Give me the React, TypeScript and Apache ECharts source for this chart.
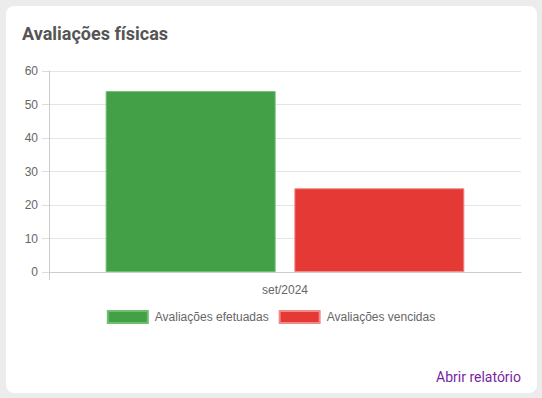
import React, { useEffect, useRef } from "react";
import * as echarts from "echarts";

const categories = ["set/2024"];
const seriesNames = ["Avaliações efetuadas", "Avaliações vencidas"];
const efetuadas = [54];
const vencidas = [25];
const colors = ["#43a047", "#e53935"];
const borderColors = ["#6fbf73", "#f08a88"];

export default function App() {
  const ref = useRef<HTMLDivElement>(null);
  useEffect(() => {
    document.body.style.margin = "0";
    const chart = echarts.init(ref.current!, undefined, { renderer: "svg" });
    const font = "'Liberation Sans', Arial, sans-serif";
    chart.setOption({
      animation: false,
      backgroundColor: "#ececec",
      textStyle: { fontFamily: font },
      title: {
        text: "Avaliações físicas",
        left: 22,
        top: 24,
        padding: 0,
        textStyle: { fontFamily: "Roboto", fontSize: 18, fontWeight: "bold", color: "#555555" },
      },
      graphic: [
        {
          type: "rect",
          z: -10,
          shape: { x: 6, y: 6, width: 531, height: 387, r: 8 },
          style: { fill: "#ffffff" },
        },
        {
          type: "line",
          shape: { x1: 49.5, y1: 272, x2: 49.5, y2: 280 },
          style: { stroke: "#cccccc", lineWidth: 1 },
        },
        {
          type: "text",
          right: 21,
          top: 370,
          style: { text: "Abrir relatório", fontFamily: "Roboto", fontSize: 14, fill: "#7b1fa2" },
        },
      ],
      legend: {
        top: 305,
        left: "center",
        itemWidth: 40,
        itemHeight: 12,
        itemGap: 10,
        icon: "rect",
        textStyle: { fontFamily: font, fontSize: 12, color: "#666666", padding: [0, 0, 0, 2] },
        data: seriesNames,
      },
      grid: { left: 49, right: 21, top: 71, bottom: 126 },
      xAxis: {
        type: "category",
        data: categories,
        axisLine: { show: true, lineStyle: { color: "#cccccc" } },
        axisTick: { show: false },
        axisLabel: { fontFamily: font, fontSize: 12, color: "#666666", margin: 12 },
      },
      yAxis: {
        type: "value",
        min: 0,
        max: 60,
        interval: 10,
        axisLine: { show: true, lineStyle: { color: "#cccccc" } },
        axisTick: { show: true, length: 7, lineStyle: { color: "#dddddd" } },
        axisLabel: { fontFamily: font, fontSize: 12, color: "#666666", margin: 11 },
        splitLine: { lineStyle: { color: "#e5e5e5" } },
      },
      series: [
        {
          name: seriesNames[0],
          type: "bar",
          data: efetuadas,
          barWidth: 170,
          barGap: "11%",
          itemStyle: { color: colors[0], borderColor: borderColors[0], borderWidth: 1 },
        },
        {
          name: seriesNames[1],
          type: "bar",
          data: vencidas,
          barWidth: 170,
          itemStyle: { color: colors[1], borderColor: borderColors[1], borderWidth: 1 },
        },
      ],
    });
    return () => chart.dispose();
  }, []);
  return <div ref={ref} style={{ width: 542, height: 398 }} />;
}
